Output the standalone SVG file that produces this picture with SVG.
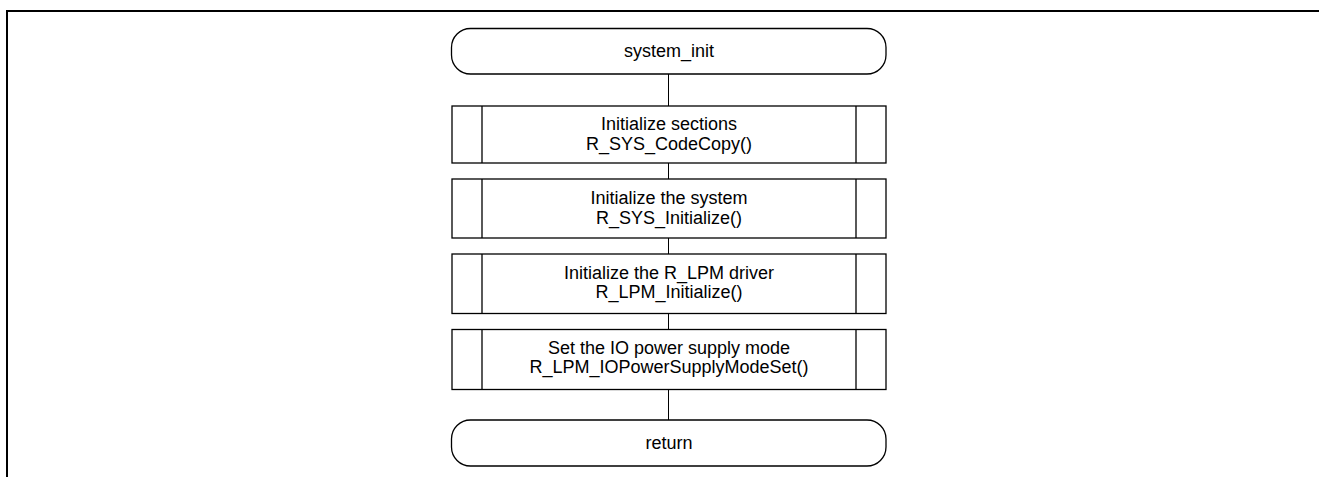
<svg xmlns="http://www.w3.org/2000/svg" width="1319" height="477" viewBox="0 0 1319 477">
<style>
.shape{fill:#fff;stroke:#000;stroke-width:1.3}
.sub{fill:none;stroke:#000;stroke-width:1.3}
.conn{fill:none;stroke:#000;stroke-width:1}
.frame{fill:none;stroke:#000;stroke-width:2}
text{font-family:"Liberation Sans",Arial,sans-serif;font-size:18px;fill:#000;text-anchor:middle}
</style>
<rect width="1319" height="477" fill="#fff"/>
<path class="frame" d="M7,477 V11 H1319"/>
<g id="connectors">
<line class="conn" x1="668.5" y1="74" x2="668.5" y2="106"/>
<line class="conn" x1="668.5" y1="163" x2="668.5" y2="179"/>
<line class="conn" x1="668.5" y1="238" x2="668.5" y2="254"/>
<line class="conn" x1="668.5" y1="313.5" x2="668.5" y2="329.5"/>
<line class="conn" x1="668.5" y1="389.5" x2="668.5" y2="420"/>
</g>
<g id="start">
<rect class="shape" x="451.5" y="28.5" width="434.5" height="45.5" rx="19" ry="19"/>
<text x="669" y="57">system_init</text>
</g>
<g id="step1">
<rect class="shape" x="452" y="106" width="434" height="57"/>
<path class="sub" d="M482,106 V163 M856,106 V163"/>
<text x="669" y="130">Initialize sections</text>
<text x="669" y="149.5">R_SYS_CodeCopy()</text>
</g>
<g id="step2">
<rect class="shape" x="452" y="179" width="434" height="59"/>
<path class="sub" d="M482,179 V238 M856,179 V238"/>
<text x="669" y="204">Initialize the system</text>
<text x="669" y="223.5">R_SYS_Initialize()</text>
</g>
<g id="step3">
<rect class="shape" x="452" y="254" width="434" height="59.5"/>
<path class="sub" d="M482,254 V313.5 M856,254 V313.5"/>
<text x="669" y="279">Initialize the R_LPM driver</text>
<text x="669" y="298">R_LPM_Initialize()</text>
</g>
<g id="step4">
<rect class="shape" x="452" y="329.5" width="434" height="60"/>
<path class="sub" d="M482,329.5 V389.5 M856,329.5 V389.5"/>
<text x="669" y="353.5">Set the IO power supply mode</text>
<text x="669" y="372.5">R_LPM_IOPowerSupplyModeSet()</text>
</g>
<g id="end">
<rect class="shape" x="451.5" y="420" width="434.5" height="46" rx="19" ry="19"/>
<text x="669" y="449">return</text>
</g>
</svg>
